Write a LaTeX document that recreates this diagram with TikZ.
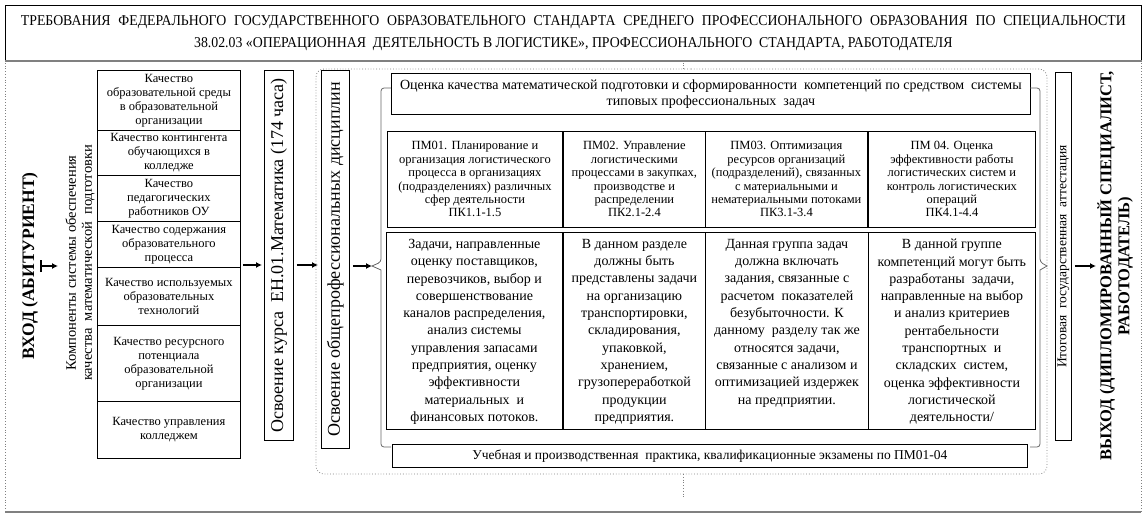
\documentclass[tikz,border=0pt]{standalone}
\usepackage{fontspec}
\setmainfont{Liberation Serif}
\newfontfamily\condfont{Liberation Serif}[FakeStretch=0.92]
\usetikzlibrary{arrows.meta}
\begin{document}
\begin{tikzpicture}[x=1pt,y=-1pt,
  box/.style={draw=black, line width=0.8pt, inner sep=0pt, align=center, anchor=north west},
  arr/.style={-{Latex[length=6pt,width=6pt]}, line width=1.6pt},
  bracepath/.style={draw=gray!80!black, line width=0.8pt},
  dotline/.style={draw=gray, dotted, line width=0.8pt},
  fq/.style={font=\fontsize{12.5}{14}\selectfont},
  fpm/.style={font=\fontsize{12.5}{13.4}\selectfont},
  fc/.style={font=\fontsize{14}{17.3}\selectfont},
  fbig/.style={font=\fontsize{18}{20}\selectfont}]
\useasboundingbox (0,0) rectangle (1146,517);
% title
\node[box, minimum width=1136pt, minimum height=55pt, font=\condfont\fontsize{15}{21.5}\selectfont] (title) at (5,5)
 {\makebox[1105pt][s]{ТРЕБОВАНИЯ ФЕДЕРАЛЬНОГО ГОСУДАРСТВЕННОГО ОБРАЗОВАТЕЛЬНОГО СТАНДАРТА СРЕДНЕГО ПРОФЕССИОНАЛЬНОГО ОБРАЗОВАНИЯ ПО СПЕЦИАЛЬНОСТИ}\\
 38.02.03 «ОПЕРАЦИОННАЯ\ \ ДЕЯТЕЛЬНОСТЬ В ЛОГИСТИКЕ», ПРОФЕССИОНАЛЬНОГО\ \ СТАНДАРТА, РАБОТОДАТЕЛЯ};
\draw[gray, line width=1.5pt] (title.south west) -- (title.south east);
% outer frame
\draw[dotline] (5,60) -- (5,512);
\draw[dotline] (1141,60) -- (1141,512);
\draw[gray, line width=1.5pt] (5,512) -- (1141,512);
% inner dotted frame
\draw[dotline, rounded corners=8pt] (683,69) -- (1047,69) -- (1047,474) -- (316,474) -- (316,69) -- cycle;
\draw[dotline] (683,69) -- (683,62);
\draw[dotline] (683,474) -- (683,497);
% entry
\node[rotate=90, font=\bfseries\fontsize{17.5}{19}\selectfont] (entry) at (30,266) {ВХОД (АБИТУРИЕНТ)};
\coordinate (ea) at (40,266);
\coordinate (eb) at (58,266);
\draw[{Bar[width=12pt,length=0pt]}-{Latex[length=6pt,width=6pt]}, line width=1.6pt] (ea) -- (eb);
\node[rotate=90, align=center, font=\fontsize{14.5}{16}\selectfont] (comp) at (80,263)
 {Компоненты системы обеспечения\\ качества\ \ математической\ \ подготовки};
% left column
\node[box, fq, minimum width=143pt, minimum height=60pt] (q1) at (97,70) {Качество\\ образовательной среды\\ в образовательной\\ организации};
\node[box, fq, minimum width=143pt, minimum height=45pt] (q2) at (97,130) {Качество контингента\\ обучающихся в\\ колледже};
\node[box, fq, minimum width=143pt, minimum height=46pt] (q3) at (97,175) {Качество\\ педагогических\\ работников ОУ};
\node[box, fq, minimum width=143pt, minimum height=46pt] (q4) at (97,221) {Качество содержания\\ образовательного\\ процесса};
\node[box, fq, minimum width=143pt, minimum height=58pt] (q5) at (97,267) {Качество используемых\\ образовательных\\ технологий};
\node[box, fq, minimum width=143pt, minimum height=76pt] (q6) at (97,325) {Качество ресурсного\\ потенциала\\ образовательной\\ организации};
\node[box, fq, minimum width=143pt, minimum height=57pt] (q7) at (97,401) {Качество управления\\ колледжем};
% vertical boxes
\node[box, minimum width=29pt, minimum height=370pt] (en) at (264,70) {};
\node[rotate=90, fbig] (ent) at (en.center) {Освоение курса\ \ ЕН.01.Математика (174 часа)};
\node[box, minimum width=28pt, minimum height=378pt] (op) at (321,70) {};
\node[rotate=90, fbig] (opt) at (op.center) {Освоение общепрофессиональных дисциплин};
\coordinate (ay) at (0,265);
\draw[arr] ([xshift=2pt]q4.east |- ay) -- ([xshift=-2pt]en.west |- ay);
\draw[arr] ([xshift=3pt]en.east |- ay) -- ([xshift=-3pt]op.west |- ay);
\coordinate (lt) at (372,266);
\draw[arr] ([xshift=3pt]op.east |- lt) -- (lt);
% left brace
\draw[bracepath, rounded corners=3pt] (391,88) -- (381,88) -- (381,262) [sharp corners] -- (lt) -- (381,270) [rounded corners=3pt] -- (381,447) -- (391,447);
% top box
\node[box, minimum width=639pt, minimum height=41pt, font=\fontsize{14}{15.5}\selectfont] (top) at (391,73)
 {Оценка качества математической подготовки и сформированности\ \ компетенций по средством\ \ системы\\ типовых профессиональных\ \ задач};
% PM headers
\node[box, fpm, minimum width=175pt, minimum height=96pt] (pm1) at (387,131) {ПМ01. Планирование и\\ организация логистического\\ процесса в организациях\\ (подразделениях) различных\\ сфер деятельности\\ ПК1.1-1.5};
\node[box, fpm, minimum width=142pt, minimum height=96pt] (pm2) at (563,131) {ПМ02. Управление\\ логистическими\\ процессами в закупках,\\ производстве и\\ распределении\\ ПК2.1-2.4};
\node[box, fpm, minimum width=162pt, minimum height=96pt] (pm3) at (705,131) {ПМ03. Оптимизация\\ ресурсов организаций\\ (подразделений), связанных\\ с материальными и\\ нематериальными потоками\\ ПК3.1-3.4};
\node[box, fpm, minimum width=167pt, minimum height=96pt] (pm4) at (868,131) {ПМ 04. Оценка\\ эффективности работы\\ логистических систем и\\ контроль логистических\\ операций\\ ПК4.1-4.4};
% content boxes
\node[box, minimum width=176pt, minimum height=197pt] (c1) at (386,232) {};
\node[box, minimum width=142pt, minimum height=197pt] (c2) at (563,232) {};
\node[box, minimum width=163pt, minimum height=197pt] (c3) at (705,232) {};
\node[box, minimum width=167pt, minimum height=197pt] (c4) at (868,232) {};
\node[fc, align=center, anchor=north, inner sep=0pt] (c1t) at ([yshift=-7pt]c1.north) {Задачи, направленные\\ оценку поставщиков,\\ перевозчиков, выбор и\\ совершенствование\\ каналов распределения,\\ анализ системы\\ управления запасами\\ предприятия, оценку\\ эффективности\\ материальных\ \ и\\ финансовых потоков.};
\node[fc, align=center, anchor=north, inner sep=0pt] (c2t) at ([yshift=-7pt]c2.north) {В данном разделе\\ должны быть\\ представлены задачи\\ на организацию\\ транспортировки,\\ складирования,\\ упаковкой,\\ хранением,\\ грузопереработкой\\ продукции\\ предприятия.};
\node[fc, align=center, anchor=north, inner sep=0pt] (c3t) at ([yshift=-7pt]c3.north) {Данная группа задач\\ должна включать\\ задания, связанные с\\ расчетом\ \ показателей\\ безубыточности. К\\ данному\ \ разделу так же\\ относятся задачи,\\ связанные с анализом и\\ оптимизацией издержек\\ на предприятии.};
\node[fc, align=center, anchor=north, inner sep=0pt] (c4t) at ([yshift=-7pt]c4.north) {В данной группе\\ компетенций могут быть\\ разработаны\ \ задачи,\\ направленные на выбор\\ и анализ критериев\\ рентабельности\\ транспортных\ \ и\\ складских\ \ систем,\\ оценка эффективности\\ логистической\\ деятельности/};
% bottom box
\node[box, minimum width=635pt, minimum height=23pt, font=\fontsize{13.5}{15}\selectfont] (prac) at (392,444) {Учебная и производственная\ \ практика, квалификационные экзамены по ПМ01-04};
% right brace
\coordinate (rt) at (1047,266);
\draw[bracepath, rounded corners=3pt] (1030,88) -- (1040,88) -- (1040,262) [sharp corners] -- (rt) -- (1040,270) [rounded corners=3pt] -- (1040,447) -- (1030,447);
% final attestation
\node[box, minimum width=16pt, minimum height=368pt] (ia) at (1055,72) {};
\node[rotate=90, font=\fontsize{13.5}{15}\selectfont] (iat) at (ia.center) {Итоговая\ \ государственная\ \ аттестация};
\coordinate (xy) at (1096,266);
\draw[arr] ([xshift=3pt]ia.east |- xy) -- (xy);
\node[rotate=90, align=center, font=\bfseries\fontsize{16.5}{18}\selectfont] (exit) at (1115,266)
 {ВЫХОД (ДИПЛОМИРОВАННЫЙ СПЕЦИАЛИСТ,\\ РАБОТОДАТЕЛЬ)};
\end{tikzpicture}
\end{document}
